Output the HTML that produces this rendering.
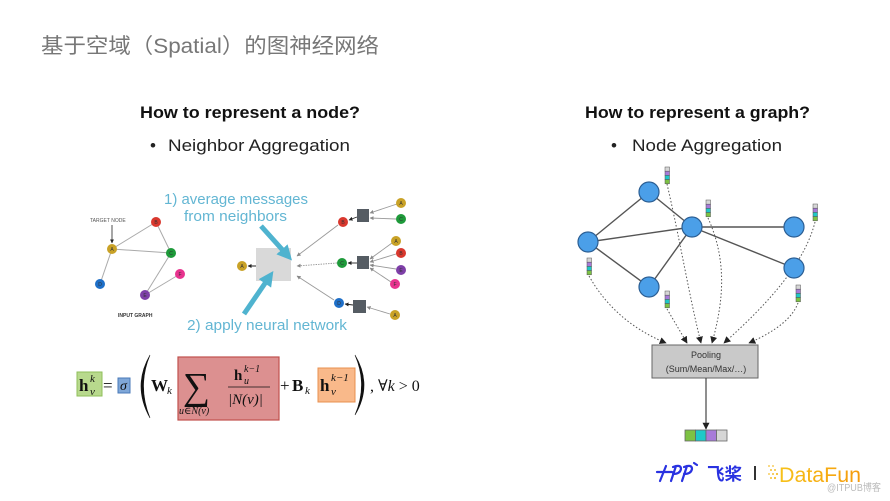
<!DOCTYPE html>
<html><head><meta charset="utf-8"><style>
html,body{margin:0;padding:0;background:#fff;}
svg{display:block;}
</style></head><body>
<svg width="890" height="501" viewBox="0 0 890 501" xmlns="http://www.w3.org/2000/svg">
<defs>
<marker id="ga" viewBox="0 0 10 10" refX="9" refY="5" markerWidth="4" markerHeight="4" markerUnits="userSpaceOnUse" orient="auto"><path d="M0,0 L10,5 L0,10 z" fill="#888"/></marker>
<marker id="ka" viewBox="0 0 10 10" refX="9" refY="5" markerWidth="4" markerHeight="4" markerUnits="userSpaceOnUse" orient="auto"><path d="M0,0 L10,5 L0,10 z" fill="#222"/></marker>
<marker id="ba" viewBox="0 0 10 10" refX="9" refY="5" markerWidth="7" markerHeight="7" markerUnits="userSpaceOnUse" orient="auto"><path d="M0,0 L10,5 L0,10 z" fill="#222"/></marker>
<marker id="ca" viewBox="0 0 10 10" refX="6" refY="5" markerWidth="15" markerHeight="15" markerUnits="userSpaceOnUse" orient="auto"><path d="M0,0 L10,5 L0,10 z" fill="#4fb3cf"/></marker>
<linearGradient id="df" x1="0" y1="0" x2="1" y2="0"><stop offset="0" stop-color="#f7c21a"/><stop offset="1" stop-color="#f59a0a"/></linearGradient>
</defs>
<rect width="890" height="501" fill="#fff"/>

<!-- Title -->
<text x="41" y="53" font-family="Liberation Sans, Noto Sans CJK SC, sans-serif" font-size="21" fill="#777" textLength="338" lengthAdjust="spacingAndGlyphs">基于空域（Spatial）的图神经网络</text>

<!-- Headings -->
<text x="140" y="118" font-family="Liberation Sans, sans-serif" font-size="17" font-weight="bold" fill="#111" textLength="220" lengthAdjust="spacingAndGlyphs">How to represent a node?</text>
<text x="150" y="151" font-family="Liberation Sans, sans-serif" font-size="17" fill="#222">•</text>
<text x="168" y="151" font-family="Liberation Sans, sans-serif" font-size="17" fill="#222" textLength="182" lengthAdjust="spacingAndGlyphs">Neighbor Aggregation</text>

<text x="585" y="118" font-family="Liberation Sans, sans-serif" font-size="17" font-weight="bold" fill="#111" textLength="225" lengthAdjust="spacingAndGlyphs">How to represent a graph?</text>
<text x="611" y="151" font-family="Liberation Sans, sans-serif" font-size="17" fill="#222">•</text>
<text x="632" y="151" font-family="Liberation Sans, sans-serif" font-size="17" fill="#222" textLength="150" lengthAdjust="spacingAndGlyphs">Node Aggregation</text>

<!-- Left input graph -->
<g stroke="#aaa" stroke-width="1">
<line x1="112" y1="249" x2="156" y2="222"/>
<line x1="112" y1="249" x2="171" y2="253"/>
<line x1="156" y1="222" x2="171" y2="253"/>
<line x1="112" y1="249" x2="100" y2="284"/>
<line x1="171" y1="253" x2="145" y2="295"/>
<line x1="180" y1="274" x2="145" y2="295"/>
</g>
<text x="90" y="222" font-family="Liberation Sans, sans-serif" font-size="5" fill="#555">TARGET NODE</text>
<line x1="112" y1="225" x2="112" y2="243" stroke="#222" stroke-width="0.8" marker-end="url(#ka)"/>
<g font-family="Liberation Sans, sans-serif" font-size="5" fill="#333" text-anchor="middle">
<circle cx="112" cy="249" r="5" fill="#c9a227"/><text x="112" y="251">A</text>
<circle cx="156" cy="222" r="5" fill="#d9382e"/><text x="156" y="224">B</text>
<circle cx="171" cy="253" r="5" fill="#1e9a3a"/><text x="171" y="255">C</text>
<circle cx="180" cy="274" r="5" fill="#e8338f"/><text x="180" y="276">F</text>
<circle cx="145" cy="295" r="5" fill="#7e3fa8"/><text x="145" y="297">E</text>
<circle cx="100" cy="284" r="5" fill="#1e6fc8"/><text x="100" y="286">D</text>
</g>
<text x="118" y="317" font-family="Liberation Sans, sans-serif" font-size="5" font-weight="bold" fill="#333">INPUT GRAPH</text>

<!-- Right part of left diagram -->
<rect x="256" y="248" width="35" height="33" fill="#d9d9d9"/>
<line x1="256" y1="266" x2="248" y2="266" stroke="#222" stroke-width="1" marker-end="url(#ka)"/>
<g stroke="#999" stroke-width="0.9" fill="none">
<line x1="338" y1="225" x2="297" y2="256" marker-end="url(#ga)"/>
<line x1="337" y1="263" x2="297" y2="266" stroke-dasharray="1.5,1" marker-end="url(#ga)"/>
<line x1="334" y1="300" x2="297" y2="276" marker-end="url(#ga)"/>
<line x1="397" y1="204" x2="370" y2="213" marker-end="url(#ga)"/>
<line x1="396" y1="219" x2="370" y2="218" marker-end="url(#ga)"/>
<line x1="392" y1="243" x2="370" y2="259" marker-end="url(#ga)"/>
<line x1="396" y1="254" x2="370" y2="262" marker-end="url(#ga)"/>
<line x1="396" y1="269" x2="370" y2="265" marker-end="url(#ga)"/>
<line x1="391" y1="282" x2="370" y2="268" marker-end="url(#ga)"/>
<line x1="390" y1="314" x2="367" y2="307" marker-end="url(#ga)"/>
</g>
<g stroke="#222" stroke-width="0.9">
<line x1="357" y1="217" x2="349" y2="220" marker-end="url(#ka)"/>
<line x1="357" y1="263" x2="348" y2="263" marker-end="url(#ka)"/>
<line x1="353" y1="305" x2="345" y2="304" marker-end="url(#ka)"/>
</g>
<rect x="357" y="209" width="12" height="13" fill="#555c63"/>
<rect x="357" y="256" width="12" height="13" fill="#555c63"/>
<rect x="353" y="300" width="13" height="13" fill="#555c63"/>
<g font-family="Liberation Sans, sans-serif" font-size="5" fill="#333" text-anchor="middle">
<circle cx="242" cy="266" r="5" fill="#c9a227"/><text x="242" y="268">A</text>
<circle cx="343" cy="222" r="5" fill="#d9382e"/><text x="343" y="224">B</text>
<circle cx="342" cy="263" r="5" fill="#1e9a3a"/><text x="342" y="265">C</text>
<circle cx="339" cy="303" r="5" fill="#1e6fc8"/><text x="339" y="305">D</text>
<circle cx="401" cy="203" r="5" fill="#c9a227"/><text x="401" y="205">A</text>
<circle cx="401" cy="219" r="5" fill="#1e9a3a"/><text x="401" y="221">C</text>
<circle cx="396" cy="241" r="5" fill="#c9a227"/><text x="396" y="243">A</text>
<circle cx="401" cy="253" r="5" fill="#d9382e"/><text x="401" y="255">B</text>
<circle cx="401" cy="270" r="5" fill="#7e3fa8"/><text x="401" y="272">E</text>
<circle cx="395" cy="284" r="5" fill="#e8338f"/><text x="395" y="286">F</text>
<circle cx="395" cy="315" r="5" fill="#c9a227"/><text x="395" y="317">A</text>
</g>

<!-- Cyan arrows -->
<line x1="261" y1="226" x2="288" y2="256" stroke="#4fb3cf" stroke-width="5" marker-end="url(#ca)"/>
<line x1="244" y1="314" x2="270" y2="276" stroke="#4fb3cf" stroke-width="5" marker-end="url(#ca)"/>
<g font-family="Liberation Sans, sans-serif" font-size="15" fill="#63b6d3">
<text x="164" y="204" textLength="144" lengthAdjust="spacingAndGlyphs">1) average messages</text>
<text x="184" y="221" textLength="103" lengthAdjust="spacingAndGlyphs">from neighbors</text>
<text x="187" y="330" textLength="160" lengthAdjust="spacingAndGlyphs">2) apply neural network</text>
</g>

<!-- Formula -->
<rect x="77" y="372" width="25" height="24" fill="#b8d98d" stroke="#8fbf5a" stroke-width="1"/>
<rect x="118" y="378" width="12" height="15" fill="#7fa7d8" stroke="#4a7ab8" stroke-width="1"/>
<rect x="178" y="357" width="101" height="63" fill="#dc9090" stroke="#c0504d" stroke-width="1.2"/>
<rect x="318" y="368" width="37" height="34" fill="#f9b98a" stroke="#e8904f" stroke-width="1"/>
<path d="M150,355 Q132,386 150,418 Q137,386 150,355 Z" fill="#111" stroke="#111" stroke-width="0.6"/>
<path d="M355,355 Q373,385 355,415 Q368,385 355,355 Z" fill="#111" stroke="#111" stroke-width="0.6"/>
<g font-family="Liberation Serif, DejaVu Serif, serif" fill="#111">
<text x="79" y="391" font-size="17" font-weight="bold">h</text>
<text x="90" y="382" font-size="11" font-style="italic">k</text>
<text x="90" y="395" font-size="11" font-style="italic">v</text>
<text x="103" y="391" font-size="17">=</text>
<text x="120" y="390" font-size="14" font-style="italic">σ</text>
<text x="151" y="391" font-size="17" font-weight="bold">W</text>
<text x="167" y="394" font-size="11" font-style="italic">k</text>
<text x="183" y="399" font-size="38">∑</text>
<text x="179" y="414" font-size="10" font-style="italic">u∈N(v)</text>
<text x="234" y="380" font-size="15" font-weight="bold">h</text>
<text x="244" y="372" font-size="10" font-style="italic">k−1</text>
<text x="244" y="384" font-size="10" font-style="italic">u</text>
<line x1="228" y1="387" x2="270" y2="387" stroke="#111" stroke-width="0.8"/>
<text x="228" y="404" font-size="15" font-style="italic">|N(v)|</text>
<text x="280" y="391" font-size="17">+</text>
<text x="292" y="391" font-size="17" font-weight="bold">B</text>
<text x="305" y="394" font-size="11" font-style="italic">k</text>
<text x="320" y="391" font-size="17" font-weight="bold">h</text>
<text x="331" y="381" font-size="11" font-style="italic">k−1</text>
<text x="331" y="395" font-size="11" font-style="italic">v</text>
<text x="370" y="391" font-size="16">,  <tspan font-style="normal">∀</tspan><tspan font-style="italic">k</tspan> &gt; 0</text>
</g>

<!-- Right graph edges -->
<g stroke="#555" stroke-width="1.4">
<line x1="588" y1="242" x2="649" y2="192"/>
<line x1="588" y1="242" x2="692" y2="227"/>
<line x1="588" y1="242" x2="649" y2="287"/>
<line x1="649" y1="192" x2="692" y2="227"/>
<line x1="649" y1="287" x2="692" y2="227"/>
<line x1="692" y1="227" x2="794" y2="227"/>
<line x1="692" y1="227" x2="794" y2="268"/>
</g>
<!-- dotted curves -->
<g stroke="#555" stroke-width="1" fill="none" stroke-dasharray="1.5,2">
<path d="M589,276 Q615,322 666,343" marker-end="url(#ba)"/>
<path d="M667,309 L687,343" marker-end="url(#ba)"/>
<path d="M667,184 C680,240 690,300 701,343" marker-end="url(#ba)"/>
<path d="M708,218 C727,260 724,300 712,343" marker-end="url(#ba)"/>
<path d="M815,222 C805,262 770,302 724,343" marker-end="url(#ba)"/>
<path d="M798,303 Q790,325 749,343" marker-end="url(#ba)"/>
</g>
<g fill="#4b9fe8" stroke="#2c5f94" stroke-width="1.2">
<circle cx="649" cy="192" r="10"/>
<circle cx="692" cy="227" r="10"/>
<circle cx="588" cy="242" r="10"/>
<circle cx="649" cy="287" r="10"/>
<circle cx="794" cy="227" r="10"/>
<circle cx="794" cy="268" r="10"/>
</g>
<!-- stacks -->
<g stroke="#555" stroke-width="0.5">
<g transform="translate(665,167)"><rect y="0" width="4.5" height="4.2" fill="#d6d6d6"/><rect y="4.2" width="4.5" height="4.2" fill="#a77ad8"/><rect y="8.4" width="4.5" height="4.2" fill="#1ec8c8"/><rect y="12.6" width="4.5" height="4.2" fill="#7dc243"/></g>
<g transform="translate(706,200)"><rect y="0" width="4.5" height="4.2" fill="#d6d6d6"/><rect y="4.2" width="4.5" height="4.2" fill="#a77ad8"/><rect y="8.4" width="4.5" height="4.2" fill="#1ec8c8"/><rect y="12.6" width="4.5" height="4.2" fill="#7dc243"/></g>
<g transform="translate(813,204)"><rect y="0" width="4.5" height="4.2" fill="#d6d6d6"/><rect y="4.2" width="4.5" height="4.2" fill="#a77ad8"/><rect y="8.4" width="4.5" height="4.2" fill="#1ec8c8"/><rect y="12.6" width="4.5" height="4.2" fill="#7dc243"/></g>
<g transform="translate(587,258)"><rect y="0" width="4.5" height="4.2" fill="#d6d6d6"/><rect y="4.2" width="4.5" height="4.2" fill="#a77ad8"/><rect y="8.4" width="4.5" height="4.2" fill="#1ec8c8"/><rect y="12.6" width="4.5" height="4.2" fill="#7dc243"/></g>
<g transform="translate(665,291)"><rect y="0" width="4.5" height="4.2" fill="#d6d6d6"/><rect y="4.2" width="4.5" height="4.2" fill="#a77ad8"/><rect y="8.4" width="4.5" height="4.2" fill="#1ec8c8"/><rect y="12.6" width="4.5" height="4.2" fill="#7dc243"/></g>
<g transform="translate(796,285)"><rect y="0" width="4.5" height="4.2" fill="#d6d6d6"/><rect y="4.2" width="4.5" height="4.2" fill="#a77ad8"/><rect y="8.4" width="4.5" height="4.2" fill="#1ec8c8"/><rect y="12.6" width="4.5" height="4.2" fill="#7dc243"/></g>
</g>

<!-- Pooling -->
<rect x="652" y="345" width="106" height="33" fill="#c9c9c9" stroke="#666" stroke-width="1"/>
<g font-family="Liberation Sans, sans-serif" font-size="9" fill="#333" text-anchor="middle">
<text x="706" y="358">Pooling</text>
<text x="706" y="372">(Sum/Mean/Max/…)</text>
</g>
<line x1="706" y1="378" x2="706" y2="429" stroke="#444" stroke-width="1.2" marker-end="url(#ba)"/>
<g stroke="#666" stroke-width="0.8">
<rect x="685" y="430" width="10.5" height="11" fill="#7dc243"/>
<rect x="695.5" y="430" width="10.5" height="11" fill="#1ec8c8"/>
<rect x="706" y="430" width="10.5" height="11" fill="#a77ad8"/>
<rect x="716.5" y="430" width="10.5" height="11" fill="#d6d6d6"/>
</g>

<!-- Logo -->
<g stroke="#2932e1" stroke-width="2.2" fill="none" stroke-linecap="round">
<path d="M657,472 L672,472"/>
<path d="M666,466 L660,481"/>
<path d="M673,467 Q681,464 681,469 Q680,474 673,474 M676,466 L671,481"/>
<path d="M684,467 Q692,464 692,469 Q691,474 684,474 M687,466 L682,481"/>
<path d="M694,463 L697,465"/>
</g>
<text x="707" y="480" font-family="Noto Sans CJK SC, sans-serif" font-size="17" font-weight="bold" fill="#2932e1" textLength="35" lengthAdjust="spacingAndGlyphs">飞桨</text>
<rect x="754" y="466" width="2" height="14" fill="#333"/>
<g fill="#f5c030">
<circle cx="769" cy="466" r="0.9"/><circle cx="773" cy="466" r="0.9"/><circle cx="771" cy="470" r="1"/><circle cx="775" cy="470" r="1"/><circle cx="769" cy="474" r="0.9"/><circle cx="773" cy="474" r="1"/><circle cx="777" cy="474" r="1.1"/><circle cx="771" cy="478" r="1"/><circle cx="775" cy="478" r="1.1"/>
</g>
<text x="779" y="482" font-family="Liberation Sans, sans-serif" font-size="21" fill="url(#df)" textLength="82" lengthAdjust="spacingAndGlyphs">DataFun</text>
<text x="827" y="491" font-family="Liberation Sans, Noto Sans CJK SC, sans-serif" font-size="10" fill="#bbb" textLength="54" lengthAdjust="spacingAndGlyphs">@ITPUB博客</text>
</svg>
</body></html>
